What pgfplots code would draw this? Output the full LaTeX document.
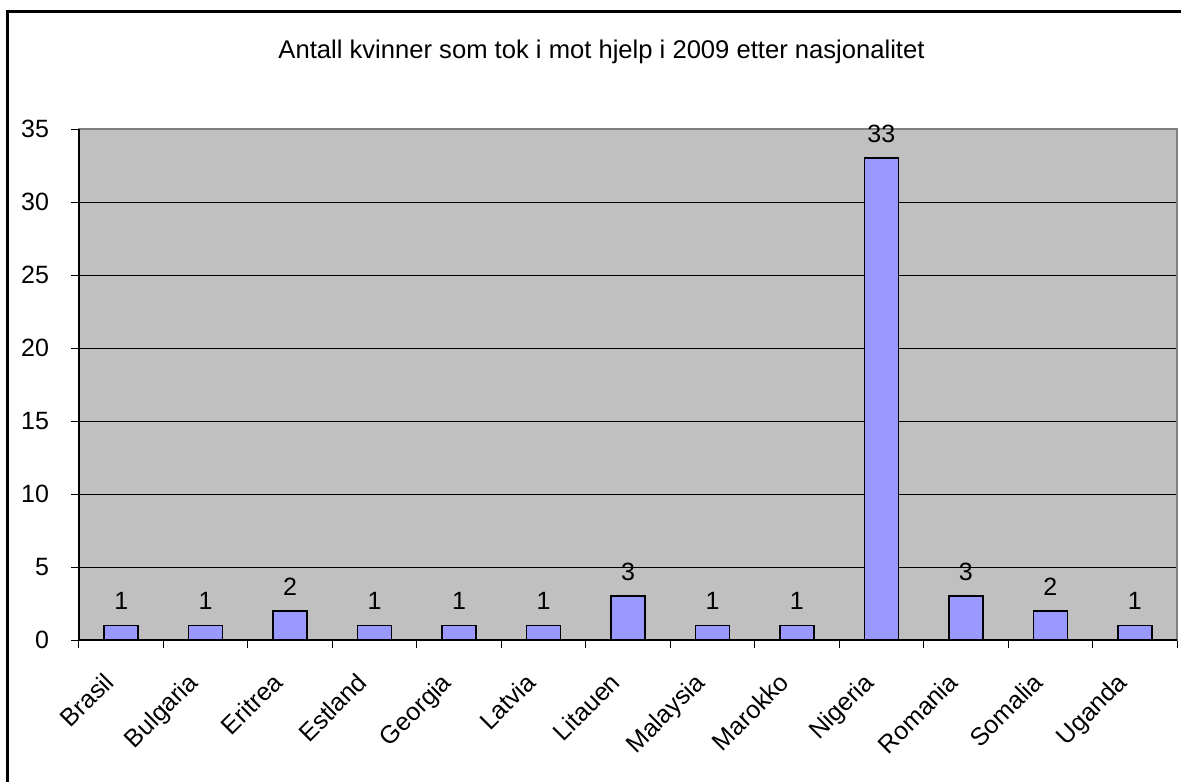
\documentclass[border=0pt]{standalone}
\usepackage{pgfplots}
\pgfplotsset{compat=1.18}
\usepackage{fontspec}
\setmainfont{Liberation Sans}
\definecolor{plotgray}{HTML}{C0C0C0}
\definecolor{barblue}{HTML}{9999FF}
\definecolor{framegray}{HTML}{808080}
\begin{document}
\begin{tikzpicture}
\useasboundingbox (-39.5pt,-71pt) rectangle (551pt,320pt);
\draw[line width=1.5pt] (-35.5pt,-71pt) -- (-35.5pt,314pt) -- (551pt,314pt);
\node[font=\fontsize{12.8}{15}\selectfont] at (261.25pt,294pt) {Antall kvinner som tok i mot hjelp i 2009 etter nasjonalitet};
\begin{axis}[
  at={(0,0)}, anchor=south west,
  scale only axis,
  width=549pt, height=255.5pt,
  ymin=0, ymax=35,
  xmin=-0.5, xmax=12.5,
  ytick={0,5,...,35},
  ymajorgrids,
  grid style={black, line width=0.5pt},
  axis background/.style={fill=plotgray},
  axis line style={framegray, line width=1pt},
  tick align=outside,
  xtick pos=left, ytick pos=left,
  major tick length=4pt,
  tick style={black, line width=0.5pt},
  xtick={-0.5,0.5,...,12.5},
  xticklabels={},
  extra x ticks={0,1,...,12},
  extra x tick labels={Brasil,Bulgaria,Eritrea,Estland,Georgia,Latvia,Litauen,Malaysia,Marokko,Nigeria,Romania,Somalia,Uganda},
  extra x tick style={major tick length=0pt, grid=none},
  xticklabel style={xshift=-3pt, yshift=-22pt, rotate=45, anchor=base east, inner sep=0pt, font=\fontsize{12.5}{15}\selectfont},
  yticklabel style={font=\fontsize{12.5}{15}\selectfont, xshift=-7.5pt},
  /pgf/number format/assume math mode=true,
  ybar, bar width=17pt,
  nodes near coords,
  every node near coord/.append style={font=\fontsize{12.5}{15}\selectfont, yshift=4pt, black},
  clip=false,
]
\addplot[fill=barblue, draw=black, line width=0.8pt] coordinates {
(0,1) (1,1) (2,2) (3,1) (4,1) (5,1) (6,3) (7,1) (8,1) (9,33) (10,3) (11,2) (12,1)
};
\draw[black, line width=0.6pt] (rel axis cs:0,1) -- (rel axis cs:0,0) -- (rel axis cs:1,0);
\end{axis}
\end{tikzpicture}
\end{document}
